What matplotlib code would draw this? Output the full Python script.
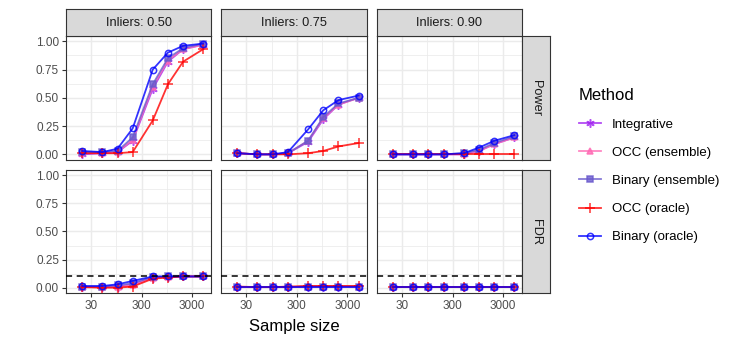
import matplotlib.pyplot as plt
from matplotlib.lines import Line2D

plt.rcParams['font.family'] = ['Liberation Sans', 'DejaVu Sans']

sample_size = [20, 50, 100, 200, 500, 1000, 2000, 5000]
inliers = ['0.50', '0.75', '0.90']
methods = ['Integrative', 'OCC (ensemble)', 'Binary (ensemble)', 'OCC (oracle)', 'Binary (oracle)']
colors = ['#A020F0', '#FF69B4', '#6A5ACD', '#FF0000', '#0000FF']
markers = [(6, 2, 0), '^', 's', '+', 'o']
msizes = [6, 4.5, 4.3, 6.5, 4.5]

# power, one list per inlier proportion
power_integrative = [[0.00, 0.01, 0.02, 0.12, 0.58, 0.82, 0.93, 0.97],
                     [0.01, 0.00, 0.00, 0.01, 0.11, 0.31, 0.44, 0.50],
                     [0.00, 0.00, 0.00, 0.00, 0.00, 0.03, 0.09, 0.15]]
power_occ_ens = [[0.01, 0.01, 0.02, 0.13, 0.60, 0.83, 0.93, 0.97],
                 [0.01, 0.00, 0.00, 0.01, 0.12, 0.32, 0.44, 0.50],
                 [0.00, 0.00, 0.00, 0.00, 0.00, 0.03, 0.09, 0.15]]
power_bin_ens = [[0.02, 0.02, 0.03, 0.15, 0.62, 0.85, 0.94, 0.98],
                 [0.01, 0.00, 0.00, 0.01, 0.12, 0.33, 0.45, 0.50],
                 [0.00, 0.00, 0.00, 0.00, 0.01, 0.04, 0.10, 0.16]]
power_occ_oracle = [[0.01, 0.01, 0.01, 0.02, 0.30, 0.62, 0.82, 0.93],
                    [0.01, 0.00, 0.00, 0.00, 0.01, 0.03, 0.07, 0.10],
                    [0.00, 0.00, 0.00, 0.00, 0.00, 0.00, 0.00, 0.00]]
power_bin_oracle = [[0.03, 0.02, 0.05, 0.23, 0.75, 0.90, 0.96, 0.98],
                    [0.01, 0.00, 0.00, 0.02, 0.22, 0.39, 0.48, 0.52],
                    [0.00, 0.00, 0.00, 0.00, 0.01, 0.06, 0.12, 0.17]]

# FDR, one list per inlier proportion
fdr_integrative = [[0.005, 0.005, 0.01, 0.03, 0.09, 0.095, 0.10, 0.10],
                   [0.005, 0.005, 0.005, 0.005, 0.01, 0.01, 0.01, 0.01],
                   [0.005, 0.005, 0.005, 0.005, 0.005, 0.005, 0.005, 0.005]]
fdr_occ_ens = [[0.005, 0.005, 0.01, 0.02, 0.09, 0.095, 0.10, 0.10],
               [0.005, 0.005, 0.005, 0.005, 0.01, 0.01, 0.01, 0.01],
               [0.005, 0.005, 0.005, 0.005, 0.005, 0.005, 0.005, 0.005]]
fdr_bin_ens = [[0.01, 0.01, 0.02, 0.04, 0.095, 0.10, 0.10, 0.10],
               [0.005, 0.005, 0.005, 0.005, 0.01, 0.01, 0.01, 0.01],
               [0.005, 0.005, 0.005, 0.005, 0.005, 0.005, 0.005, 0.005]]
fdr_occ_oracle = [[0.005, 0.0, 0.0, 0.01, 0.08, 0.09, 0.10, 0.10],
                  [0.01, 0.005, 0.005, 0.01, 0.015, 0.015, 0.015, 0.015],
                  [0.005, 0.005, 0.005, 0.005, 0.005, 0.005, 0.005, 0.005]]
fdr_bin_oracle = [[0.015, 0.015, 0.03, 0.06, 0.10, 0.10, 0.10, 0.10],
                  [0.005, 0.005, 0.005, 0.005, 0.005, 0.005, 0.005, 0.005],
                  [0.005, 0.005, 0.005, 0.005, 0.005, 0.005, 0.005, 0.005]]

power = [power_integrative, power_occ_ens, power_bin_ens, power_occ_oracle, power_bin_oracle]
fdr = [fdr_integrative, fdr_occ_ens, fdr_bin_ens, fdr_occ_oracle, fdr_bin_oracle]
metrics = ['Power', 'FDR']
fdr_level = 0.1

W, H = 747, 345
fig = plt.figure(figsize=(W / 100, H / 100), dpi=100)


def box(x0, y0, x1, y1):
    return [x0 / W, 1 - y1 / H, (x1 - x0) / W, (y1 - y0) / H]


cols = [(66, 211), (221, 366.5), (376.7, 522.3)]
rows = [(36, 160), (170, 293.3)]
border = '#333333'


def strip(rect, label, rot=0):
    s = fig.add_axes(rect)
    s.set_facecolor('#D9D9D9')
    s.set_xticks([])
    s.set_yticks([])
    for sp in s.spines.values():
        sp.set_color(border)
        sp.set_linewidth(0.8)
    s.text(0.5, 0.5, label, ha='center', va='center', rotation=rot,
           fontsize=9.2, color='#1A1A1A', transform=s.transAxes)


for r, (y0, y1) in enumerate(rows):
    data = power if r == 0 else fdr
    for c, (x0, x1) in enumerate(cols):
        ax = fig.add_axes(box(x0, y0, x1, y1))
        ax.set_xscale('log')
        ax.set_xlim(14.3, 7160)
        ax.set_ylim(-0.05, 1.047)
        ax.set_xticks([30, 300, 3000])
        ax.set_xticks([9.49, 94.9, 948.7], minor=True)
        ax.set_yticks([0, 0.25, 0.5, 0.75, 1.0])
        ax.set_yticks([0.125, 0.375, 0.625, 0.875], minor=True)
        ax.grid(True, which='major', color='#EBEBEB', linewidth=1.07)
        ax.grid(True, which='minor', color='#EBEBEB', linewidth=0.55)
        ax.set_axisbelow(True)
        for sp in ax.spines.values():
            sp.set_color(border)
            sp.set_linewidth(0.8)
        ax.tick_params(which='minor', length=0)
        ax.tick_params(which='major', color=border, length=3, width=0.8,
                       labelsize=8.5, labelcolor='#4D4D4D', pad=2)
        if c == 0:
            ax.set_yticklabels(['0.00', '0.25', '0.50', '0.75', '1.00'])
        else:
            ax.tick_params(axis='y', length=0, labelleft=False)
        if r == 1:
            ax.set_xticklabels(['30', '300', '3000'])
        else:
            ax.tick_params(axis='x', length=0, labelbottom=False)

        for m in range(len(methods)):
            face = 'none' if markers[m] == 'o' else colors[m]
            ax.plot(sample_size, data[m][c], color=colors[m], alpha=0.8,
                    linewidth=1.3, marker=markers[m], markersize=msizes[m],
                    markerfacecolor=face, markeredgecolor=colors[m],
                    markeredgewidth=1.1, clip_on=False, zorder=3)
        if r == 1:
            ax.axhline(fdr_level, color='black', linestyle=(0, (4, 3)),
                       linewidth=1.1, zorder=4)

        if r == 0:
            strip(box(x0, 9.3, x1, 36), 'Inliers: ' + inliers[c])
        if c == 2:
            strip(box(522.3, y0, 550, y1), metrics[r], rot=-90)

fig.text(294 / W, 1 - 326 / H, 'Sample size', ha='center', va='center',
         fontsize=12, color='black')

handles = []
for m in range(len(methods)):
    face = 'none' if markers[m] == 'o' else colors[m]
    handles.append(Line2D([], [], color=colors[m], alpha=0.8, linewidth=1.3,
                          marker=markers[m], markersize=msizes[m],
                          markerfacecolor=face, markeredgecolor=colors[m],
                          markeredgewidth=1.1))
leg = fig.legend(handles, methods, loc='upper left',
                 bbox_to_anchor=(567 / W, 1 - 76 / H), frameon=False,
                 title='Method', title_fontsize=12, fontsize=9.5,
                 handlelength=1.7, handletextpad=0.8, labelspacing=1.2,
                 alignment='left')

fig.savefig('out.png', dpi=100)
